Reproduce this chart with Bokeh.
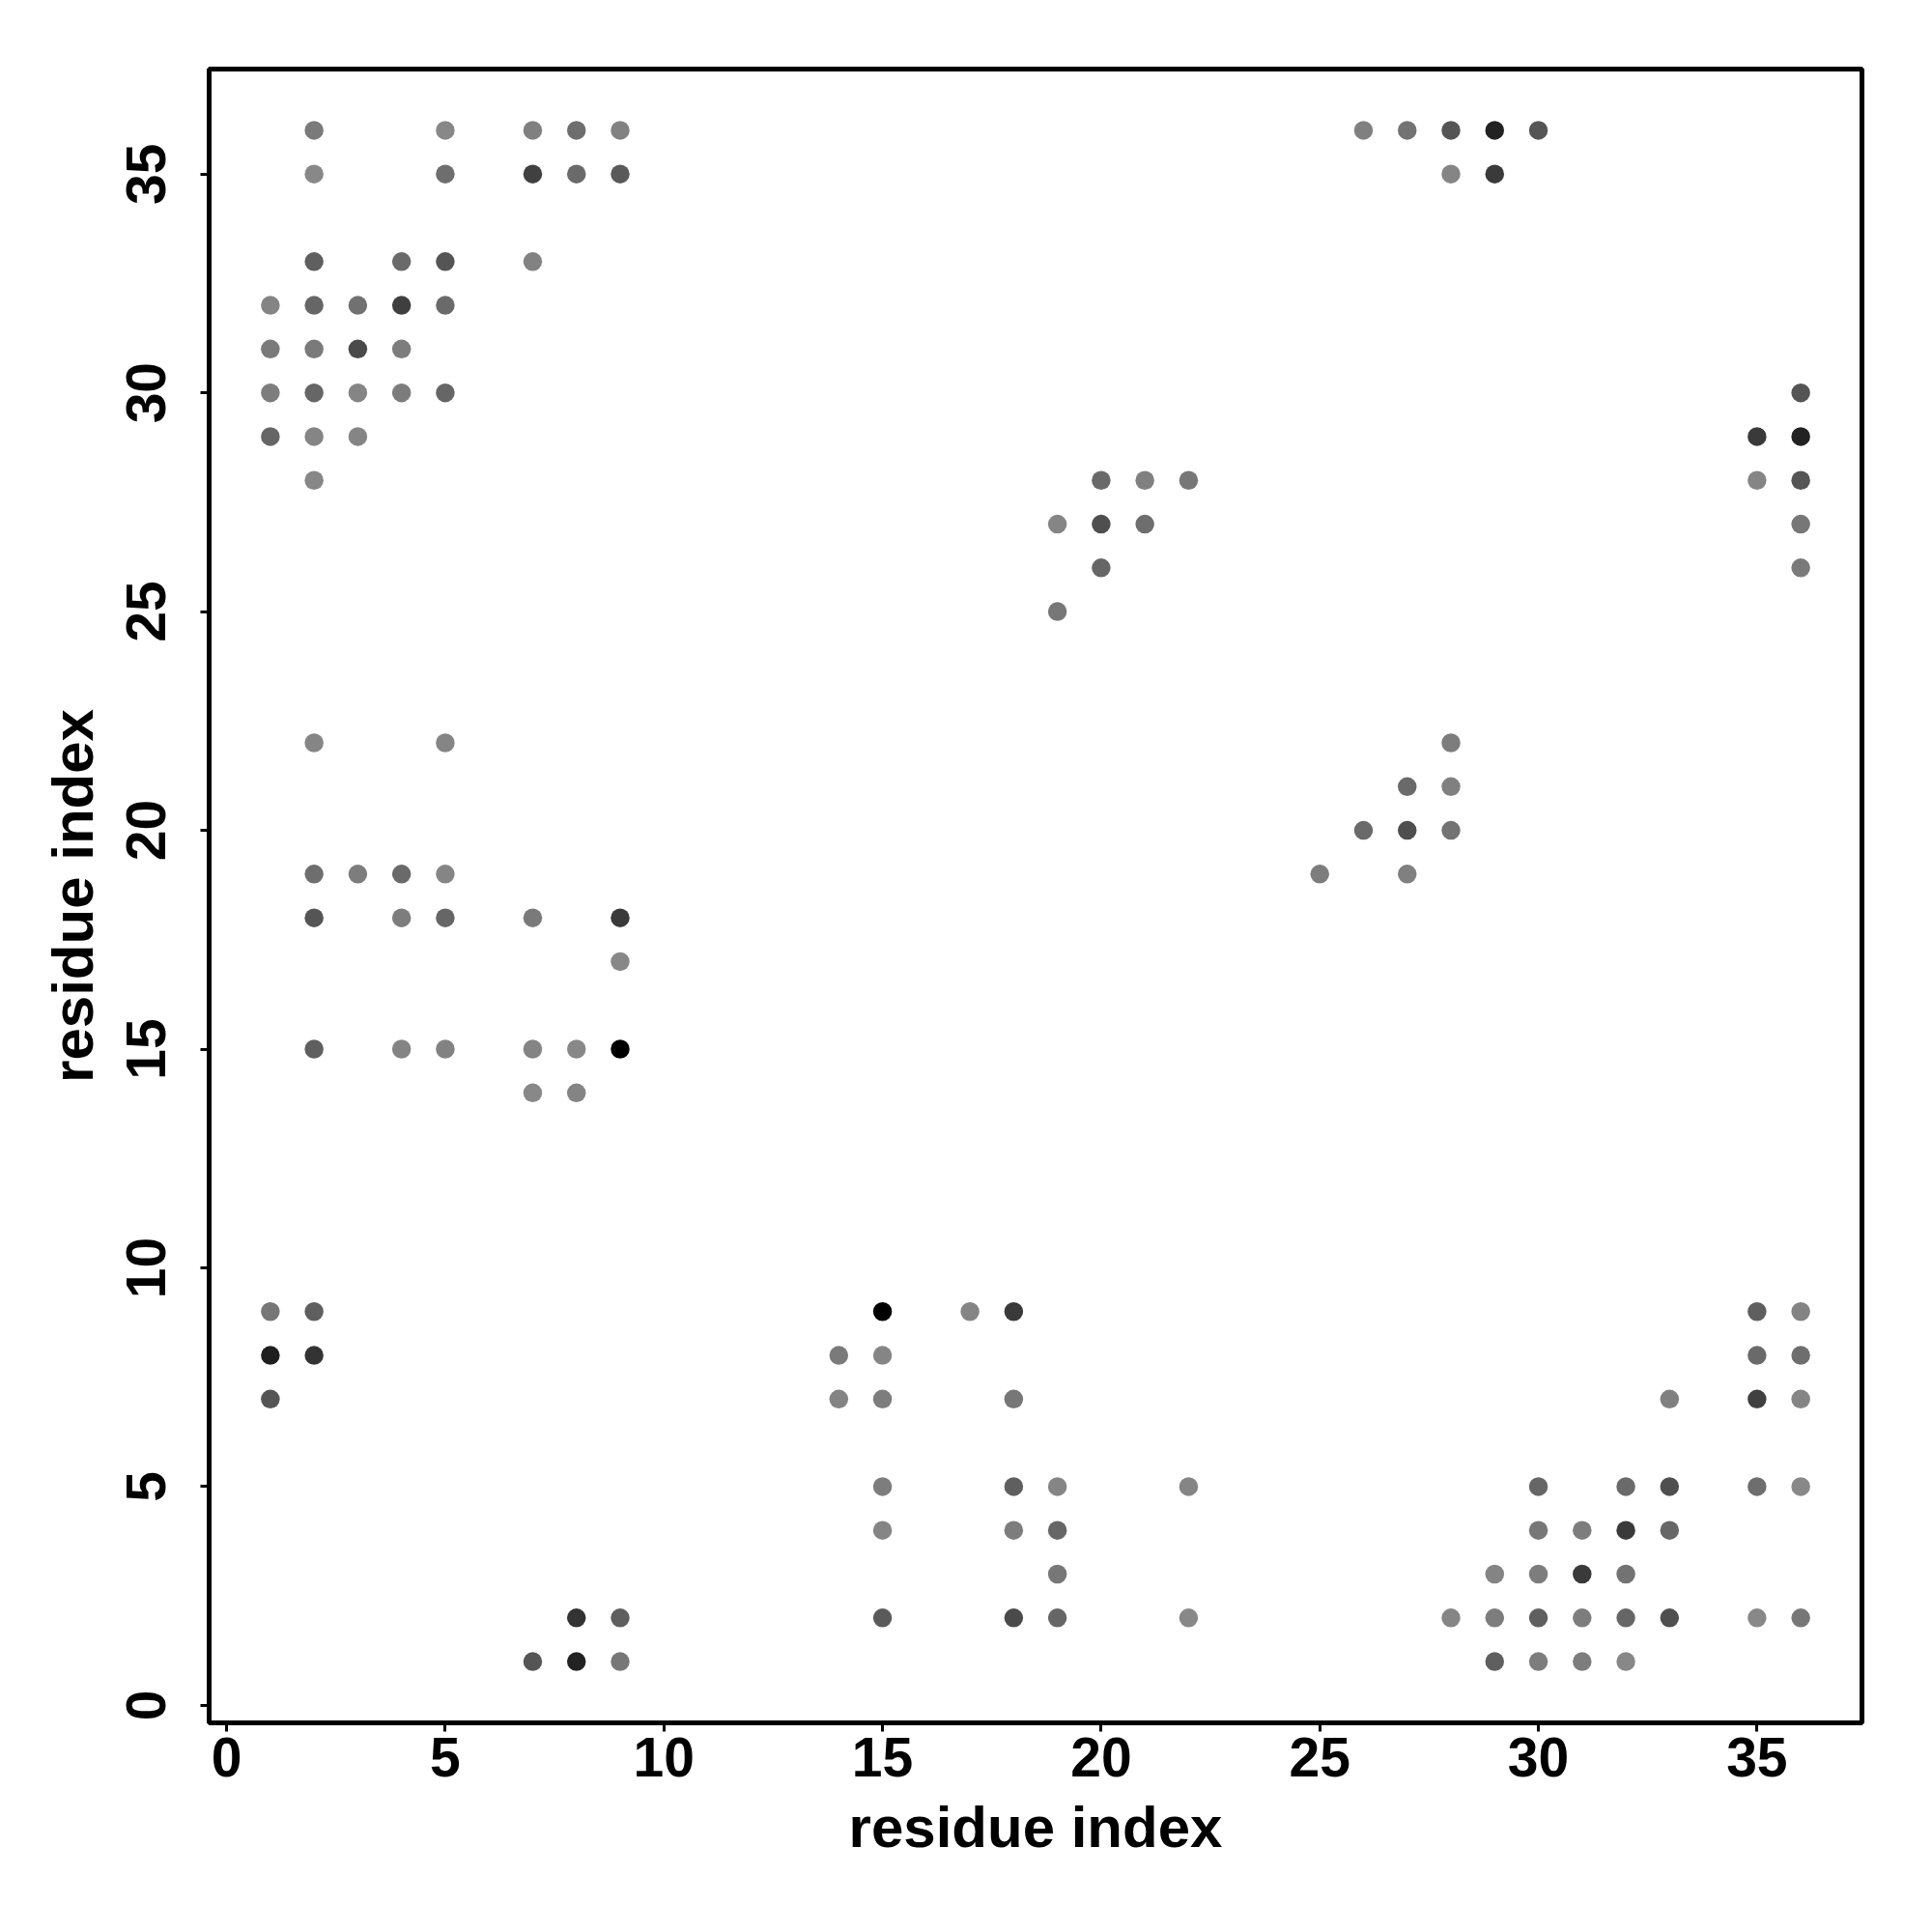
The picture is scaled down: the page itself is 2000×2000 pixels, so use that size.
from bokeh.plotting import figure
from bokeh.models import Range1d, FixedTicker, ColumnDataSource
from bokeh.embed import file_html
from bokeh.resources import INLINE

# residue pairs (x = residue i, y = residue j) and grey intensity (0 = black, 255 = white)
res_i = [2, 5, 7, 8, 9, 2, 5, 7, 8, 9, 2, 4, 5, 7, 1, 2, 3, 4, 5, 1, 2, 3, 4, 1, 2, 3, 4, 5, 1, 2, 3, 2,
         2, 5, 2, 3, 4, 5, 2, 4, 5, 7, 9, 9, 2, 4, 5, 7, 8, 9, 7, 8,
         1, 2, 1, 2, 1, 8, 9, 7, 8, 9,
         15, 17, 18, 14, 15, 14, 15, 18, 15, 18, 19, 22, 15, 18, 19, 19, 15, 18, 19, 22,
         35, 36, 35, 36, 33, 35, 36, 30, 32, 33, 35, 36, 30, 31, 32, 33, 29, 30, 31, 32,
         28, 29, 30, 31, 32, 33, 35, 36, 29, 30, 31, 32,
         20, 21, 22, 19, 20, 21, 20, 19,
         28, 27, 28, 26, 27, 28, 25, 27,
         26, 27, 28, 29, 30, 28, 29,
         36, 35, 36, 35, 36, 36, 36]
res_j = [36, 36, 36, 36, 36, 35, 35, 35, 35, 35, 33, 33, 33, 33, 32, 32, 32, 32, 32, 31, 31, 31, 31, 30, 30, 30, 30, 30, 29, 29, 29, 28,
         22, 22, 19, 19, 19, 19, 18, 18, 18, 18, 18, 17, 15, 15, 15, 15, 15, 15, 14, 14,
         9, 9, 8, 8, 7, 2, 2, 1, 1, 1,
         9, 9, 9, 8, 8, 7, 7, 7, 5, 5, 5, 5, 4, 4, 4, 3, 2, 2, 2, 2,
         9, 9, 8, 8, 7, 7, 7, 5, 5, 5, 5, 5, 4, 4, 4, 4, 3, 3, 3, 3,
         2, 2, 2, 2, 2, 2, 2, 2, 1, 1, 1, 1,
         28, 28, 28, 27, 27, 27, 26, 25,
         22, 21, 21, 20, 20, 20, 19, 19,
         36, 36, 36, 36, 36, 35, 35,
         30, 29, 29, 28, 28, 27, 26]
shade = [122, 136, 128, 110, 130, 136, 110, 64, 106, 90, 95, 106, 85, 130, 132, 102, 113, 63, 106, 122, 122, 74, 125, 125, 102, 133, 124, 102, 102, 133, 133, 135,
         133, 133, 110, 125, 106, 133, 85, 125, 102, 122, 58, 136, 95, 132, 130, 132, 136, 0, 136, 132,
         119, 95, 30, 51, 85, 51, 95, 85, 34, 119,
         0, 133, 58, 122, 133, 132, 125, 119, 125, 95, 133, 133, 133, 125, 102, 119, 90, 74, 102, 136,
         95, 132, 106, 110, 128, 64, 133, 102, 106, 79, 110, 136, 119, 125, 58, 102, 132, 125, 58, 115,
         133, 125, 95, 125, 102, 79, 136, 119, 95, 125, 125, 136,
         106, 128, 119, 133, 79, 110, 102, 119,
         125, 106, 128, 106, 79, 115, 125, 128,
         128, 115, 85, 34, 85, 133, 58,
         85, 58, 34, 133, 85, 119, 122]

tick_values = [0, 5, 10, 15, 20, 25, 30, 35]
axis_title = "residue index"

colors = ["#%02x%02x%02x" % (g, g, g) for g in shade]
src = ColumnDataSource(dict(x=res_i, y=res_j, c=colors))

p = figure(width=1984, height=1984, output_backend="svg", toolbar_location=None,
           x_range=Range1d(-0.4, 37.4), y_range=Range1d(-0.4, 37.4),
           min_border_left=216, min_border_top=71, min_border_right=57, min_border_bottom=201)
p.scatter("x", "y", source=src, size=19.5, fill_color="c", line_color=None)

p.grid.visible = False
p.outline_line_color = "black"
p.outline_line_width = 5
p.background_fill_color = "white"

for ax in (p.xaxis[0], p.yaxis[0]):
    ax.ticker = FixedTicker(ticks=tick_values)
    ax.axis_line_color = None
    ax.major_tick_in = 0
    ax.major_tick_out = 9
    ax.major_tick_line_width = 3
    ax.minor_tick_line_color = None
    ax.major_label_text_font = "Liberation Sans"
    ax.major_label_text_font_style = "bold"
    ax.major_label_text_font_size = "57px"
    ax.major_label_text_color = "black"
    ax.axis_label = axis_title
    ax.axis_label_text_font = "Liberation Sans"
    ax.axis_label_text_font_style = "bold"
    ax.axis_label_text_font_size = "60px"
    ax.axis_label_text_color = "black"

p.xaxis[0].major_label_standoff = 6
p.xaxis[0].axis_label_standoff = 16
p.yaxis[0].major_label_orientation = "vertical"
p.yaxis[0].major_label_standoff = 36
p.yaxis[0].axis_label_standoff = 20

open("out.html", "w").write(file_html(p, INLINE))
